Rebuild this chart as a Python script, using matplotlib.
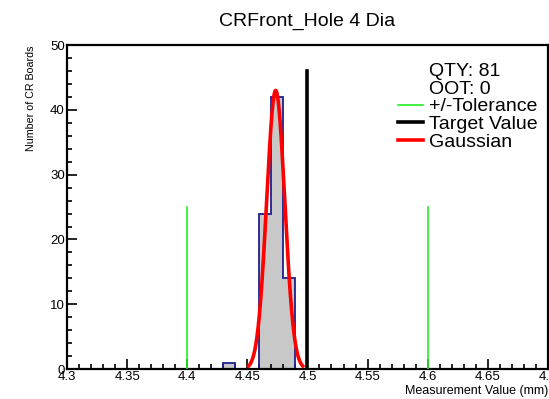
import matplotlib.pyplot as plt
import numpy as np
from matplotlib.lines import Line2D
from matplotlib.ticker import MultipleLocator

plt.rcParams['font.family'] = ['Liberation Sans', 'DejaVu Sans']

# histogram data (bin edges in mm, counts per bin)
bin_edges = [4.43, 4.44, 4.45, 4.46, 4.47, 4.48, 4.49]
counts    = [1, 0, 0, 24, 42, 14]

# gaussian fit parameters
g_amp   = 43.0
g_mean  = 4.4736
g_sigma = 0.0075

# reference lines
tol_low, tol_high, tol_height = 4.4, 4.6, 25
target, target_height = 4.5, 46

qty = 81
oot = 0

fig = plt.figure(figsize=(5.49, 3.99), dpi=100)
ax = fig.add_axes([0.122, 0.075, 0.876, 0.812])

# histogram, filled then outlined
ax.stairs(counts, bin_edges, fill=True, color='#c8c8c8', zorder=1)
ax.stairs(counts, bin_edges, color='#1f1f8f', lw=1.3, zorder=2)

# gaussian fit over +/- 3 sigma
xg = np.linspace(g_mean - 3 * g_sigma, g_mean + 3 * g_sigma, 200)
yg = g_amp * np.exp(-0.5 * ((xg - g_mean) / g_sigma) ** 2)
ax.plot(xg, yg, color='red', lw=2.6, zorder=4)

ax.plot([tol_low, tol_low], [0, tol_height], color='#22ee22', lw=1.2, zorder=3)
ax.plot([tol_high, tol_high], [0, tol_height], color='#22ee22', lw=1.2, zorder=3)
ax.plot([target, target], [0, target_height], color='black', lw=2.6, zorder=3)

ax.set_xlim(4.3, 4.7)
ax.set_ylim(0, 50)
ax.xaxis.set_major_locator(MultipleLocator(0.05))
ax.xaxis.set_minor_locator(MultipleLocator(0.01))
ax.yaxis.set_major_locator(MultipleLocator(10))
ax.yaxis.set_minor_locator(MultipleLocator(2))
ax.set_xticks(ax.get_xticks())
ax.set_xticklabels(['%g' % round(t, 2) for t in ax.get_xticks()])
ax.set_xlim(4.3, 4.7)

ax.tick_params(which='both', direction='in', labelsize=9.5, width=1.2, pad=1.5)
ax.tick_params(which='major', length=7)
ax.tick_params(which='minor', length=3.5)
for s in ax.spines.values():
    s.set_linewidth(1.6)

ax.set_title('CRFront_Hole 4 Dia', fontsize=14, pad=14)
ax.set_ylabel('Number of CR Boards', fontsize=7.7, loc='top', labelpad=10)
ax.set_xlabel('Measurement Value (mm)', fontsize=9, loc='right', labelpad=1)

blank = Line2D([], [], color='none')
handles = [
    blank, blank,
    Line2D([], [], color='#22ee22', lw=1.2),
    Line2D([], [], color='black', lw=2.6),
    Line2D([], [], color='red', lw=2.6),
]
labels = ['QTY: %d' % qty, 'OOT: %d' % oot, '+/-Tolerance', 'Target Value', 'Gaussian']
ax.legend(handles, labels, loc='upper right', bbox_to_anchor=(0.995, 0.97),
          frameon=False, fontsize=14, labelspacing=0.0, handlelength=1.3,
          handletextpad=0.3, borderaxespad=0)

fig.savefig('out.png', dpi=100)
